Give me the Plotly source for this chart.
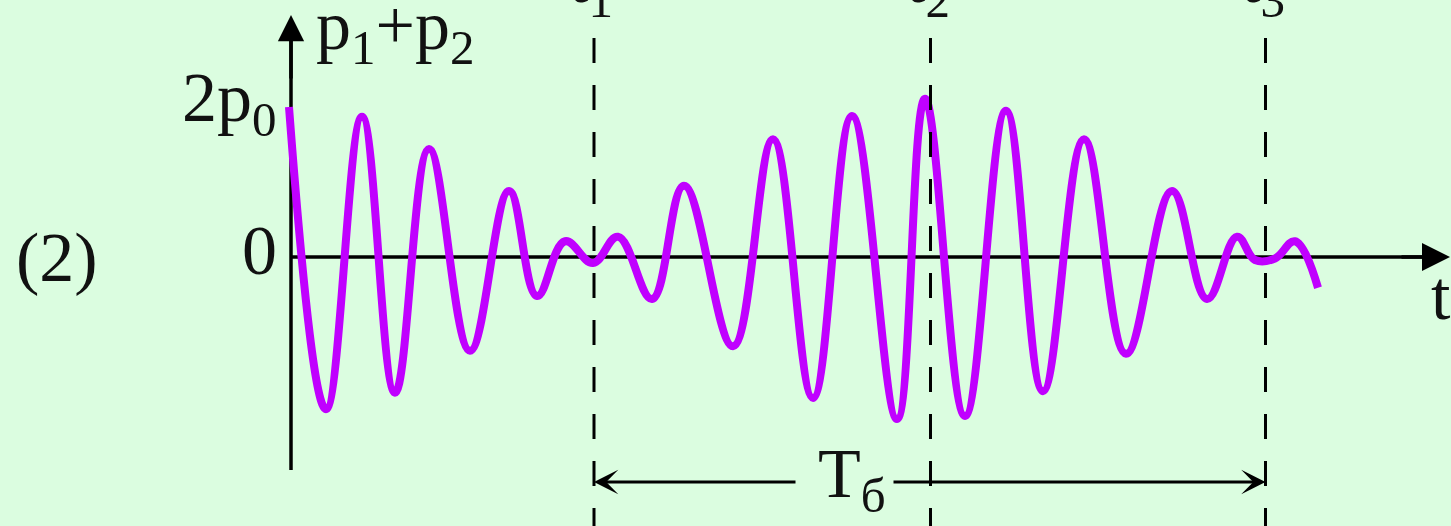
import plotly.graph_objects as go

# ---------------- data ----------------
# time axis in arbitrary units (vertical axis at t = 0), signal in units of p0
# extrema of the beat curve, left to right
t_vals = [-0.02, 0.35, 0.71, 1.04, 1.38, 1.79, 2.18, 2.46, 2.74, 3.02,
          3.27, 3.61, 3.93, 4.42, 4.82, 5.22, 5.61, 6.06, 6.34, 6.74,
          7.15, 7.52, 7.93, 8.35, 8.81, 9.16, 9.46, 9.64, 9.84, 10.04,
          10.27]
p_vals = [2.00, -2.03, 1.87, -1.81, 1.44, -1.25, 0.88, -0.52, 0.21, -0.08,
          0.27, -0.56, 0.95, -1.19, 1.57, -1.88, 1.88, -2.16, 2.11, -2.12,
          1.95, -1.79, 1.57, -1.29, 0.88, -0.56, 0.27, -0.04, -0.02, 0.21,
          -0.41]

t_marks = [3.03, 6.395, 9.745]
mark_labels = ["t<sub>1</sub>", "t<sub>2</sub>", "t<sub>3</sub>"]
y_tick_vals = [2, 0]
y_tick_labels = ["2p<sub>0</sub>", "0"]
y_title = "p<sub>1</sub>+p<sub>2</sub>"
x_title = "t"
period_label = "T<sub>б</sub>"
panel_label = "(2)"

# ---------------- layout helpers ----------------
W, H = 1451, 526
def xp(px):
    return (px - 291) / 100.0
def yp(py):
    return (257 - py) / 75.0
def ypaper(py):
    return (H - py) / H

BG = "rgb(219,253,224)"
INK = "#111111"
FONT = "Liberation Serif"
FS = 70

fig = go.Figure()
fig.add_trace(go.Scatter(x=t_vals, y=p_vals, mode="lines",
                         line=dict(color="#C000FF", width=8, shape="spline", smoothing=1.15),
                         hoverinfo="skip", showlegend=False))

shapes = []
shapes.append(dict(type="line", x0=0, x1=0, y0=yp(470), y1=yp(40), line=dict(color="black", width=3.5), layer="below"))
shapes.append(dict(type="line", x0=0, x1=xp(1430), y0=0, y1=0, line=dict(color="black", width=3.5), layer="below"))
for tm in t_marks:
    shapes.append(dict(type="line", x0=tm, x1=tm, y0=yp(38), y1=yp(530),
                       line=dict(color="black", width=3, dash="25px,22px"), layer="above"))

ann = []
font = dict(family=FONT, size=FS, color=INK)
ann.append(dict(x=0, y=yp(15), ax=0, ay=yp(80), xref="x", yref="y", axref="x", ayref="y",
                text="", showarrow=True, arrowhead=2, arrowsize=1.5, arrowwidth=3.5, arrowcolor="black"))
ann.append(dict(x=xp(1450), y=0, ax=xp(1400), ay=0, xref="x", yref="y", axref="x", ayref="y",
                text="", showarrow=True, arrowhead=2, arrowsize=1.6, arrowwidth=3.5, arrowcolor="black"))
ann.append(dict(x=xp(279), y=yp(103), text=y_tick_labels[0], showarrow=False, xanchor="right", yanchor="middle", font=font))
ann.append(dict(x=xp(279), y=yp(250), text=y_tick_labels[1], showarrow=False, xanchor="right", yanchor="middle", font=font))
ann.append(dict(x=xp(314), y=yp(31), text=y_title, showarrow=False, xanchor="left", yanchor="middle", font=font))
ann.append(dict(x=xp(1441), y=yp(295), text=x_title, showarrow=False, xanchor="center", yanchor="middle", font=font))
ann.append(dict(x=xp(57), y=yp(257), text=panel_label, showarrow=False, xanchor="center", yanchor="middle", font=font))
for tm, lab in zip(t_marks, mark_labels):
    ann.append(dict(x=tm - 0.27, xref="x", y=ypaper(-16), yref="paper", text=lab, showarrow=False,
                    xanchor="left", yanchor="middle", font=font))
ann.append(dict(x=t_marks[0], y=yp(482), ax=xp(797), ay=yp(482), xref="x", yref="y", axref="x", ayref="y",
                text="", showarrow=True, arrowhead=3, arrowsize=1.35, arrowwidth=3, arrowcolor="black"))
ann.append(dict(x=t_marks[2], y=yp(482), ax=xp(892), ay=yp(482), xref="x", yref="y", axref="x", ayref="y",
                text="", showarrow=True, arrowhead=3, arrowsize=1.35, arrowwidth=3, arrowcolor="black"))
ann.append(dict(x=xp(852), y=yp(479), text=period_label, showarrow=False, xanchor="center", yanchor="middle", font=font))

fig.update_layout(
    width=W, height=H, autosize=False,
    margin=dict(l=0, r=0, t=0, b=0, pad=0),
    paper_bgcolor=BG, plot_bgcolor=BG,
    xaxis=dict(range=[xp(0), xp(W)], visible=False, fixedrange=True),
    yaxis=dict(range=[yp(H), yp(0)], visible=False, fixedrange=True),
    shapes=shapes, annotations=ann, showlegend=False,
)
fig.write_html("out.html", config={"displayModeBar": False, "staticPlot": True},
               post_script="document.body.style.margin='0px';document.body.style.background='rgb(219,253,224)';")
